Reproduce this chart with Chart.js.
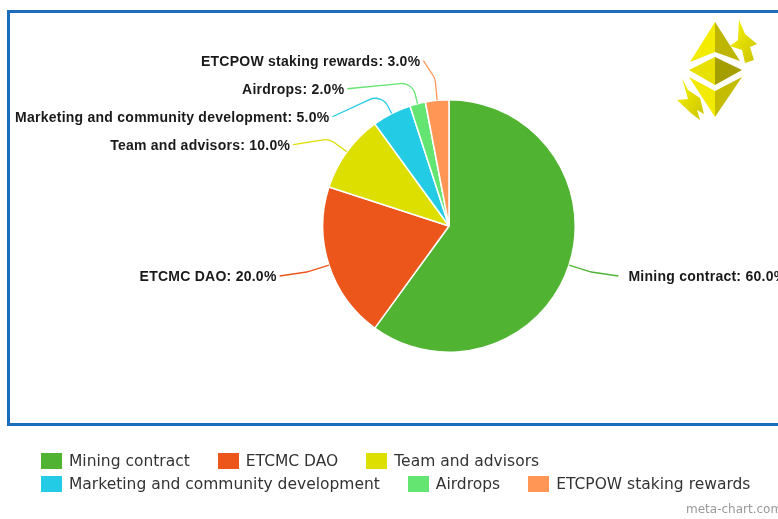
<!DOCTYPE html>
<html>
<head>
<meta charset="utf-8">
<script src="https://cdn.jsdelivr.net/npm/chart.js@4/dist/chart.umd.min.js"></script>
<style>
  html, body { margin: 0; padding: 0; width: 778px; height: 519px; overflow: hidden; background: #fff; }
  #frame { position: absolute; left: 7px; top: 10px; width: 820px; height: 410px; border: 3px solid #1b6cba; box-sizing: content-box; }
  #c { position: absolute; left: 0; top: 0; }
  #logo { position: absolute; left: 0; top: 0; }
  #legend { position: absolute; left: 41px; top: 449px; width: 770px; display: flex; flex-wrap: wrap; font-family: "DejaVu Sans", sans-serif; font-size: 15.5px; color: #333; }
  .item { display: flex; align-items: center; height: 23px; margin-right: 28px; white-space: nowrap; }
  .sw { width: 21px; height: 16px; margin-right: 7px; }
  #credit { position: absolute; left: 686px; top: 502px; font-family: "DejaVu Sans", sans-serif; font-size: 12px; color: #999; white-space: nowrap; }
</style>
</head>
<body>
<div id="frame"></div>
<canvas id="c" width="778" height="519"></canvas>
<svg id="logo" width="778" height="519" viewBox="0 0 778 519">
  <defs>
    <linearGradient id="g1" x1="0" y1="0" x2="1" y2="1">
      <stop offset="0" stop-color="#fbf500"/><stop offset="1" stop-color="#c9c200"/>
    </linearGradient>
  </defs>
  <polygon points="715,22 690,62 715,52" fill="#f3ec00"/>
  <polygon points="715,22 740,61 715,52" fill="#bdb500"/>
  <polygon points="689,70 715,57 715,85" fill="#e8e000"/>
  <polygon points="715,57 742,70 715,85" fill="#a59e00"/>
  <polygon points="689,77 715,91 715,117" fill="#f2eb00"/>
  <polygon points="715,91 742,77 715,117" fill="#c4bc00"/>
  <polygon points="739,20 745,34 757,44 750,47 754,60 745,63 742,50 730,46 738,40" fill="url(#g1)"/>
  <polygon points="682,78 688,90 700,98 704,114 697,110 700,120 692,114 677,100 688,99" fill="url(#g1)"/>
</svg>
<div id="legend"></div>
<div id="credit">meta-chart.com</div>
<script>
const categories = ['Mining contract', 'ETCMC DAO', 'Team and advisors', 'Marketing and community development', 'Airdrops', 'ETCPOW staking rewards'];
const shares = [60, 20, 10, 5, 2, 3];
const colors = ['#50b432', '#ed561b', '#dddf00', '#24cbe5', '#64e572', '#ff9655'];

const legend = document.getElementById('legend');
categories.forEach((c, i) => {
  const it = document.createElement('div'); it.className = 'item';
  const sw = document.createElement('span'); sw.className = 'sw'; sw.style.background = colors[i];
  const tx = document.createElement('span'); tx.textContent = c;
  it.appendChild(sw); it.appendChild(tx); legend.appendChild(it);
});

const outsideLabels = {
  id: 'outsideLabels',
  afterDatasetsDraw(chart) {
    const ctx = chart.ctx;
    const meta = chart.getDatasetMeta(0);
    const LABEL_R = 165, EX = 178, EY = 166, SPACING = 28, BREAK = 22, MIN_X = 15;
    const items = meta.data.map((arc, i) => {
      const mid = (arc.startAngle + arc.endAngle) / 2;
      const cos = Math.cos(mid), sin = Math.sin(mid);
      return { i, cos, sin, cx: arc.x, cy: arc.y, r: arc.outerRadius, left: cos < 0, ny: arc.y + sin * LABEL_R };
    });
    [true, false].forEach(side => {
      const list = items.filter(o => o.left === side).sort((a, b) => a.ny - b.ny);
      let prev = -Infinity;
      list.forEach(o => { o.y = Math.max(o.ny, prev + SPACING); prev = o.y; });
    });
    ctx.save();
    ctx.font = 'bold 14px "Liberation Sans", Arial, sans-serif';
    ctx.letterSpacing = '0.25px';
    ctx.textBaseline = 'middle';
    items.forEach(o => {
      const txt = categories[o.i] + ': ' + shares[o.i].toFixed(1) + '%';
      const w = ctx.measureText(txt).width;
      const dy = o.y - o.cy;
      const k = Math.sqrt(Math.max(0, 1 - (dy / EY) * (dy / EY)));
      let ax = o.cx + (o.left ? -1 : 1) * EX * k;
      if (o.left && ax - 3 - w < MIN_X) ax = MIN_X + w + 3;
      const ex = o.cx + o.cos * o.r, ey = o.cy + o.sin * o.r;
      const bx = o.cx + o.cos * (o.r + BREAK), by = o.cy + o.sin * (o.r + BREAK);
      ctx.beginPath();
      ctx.moveTo(ax, o.y - 1);
      ctx.arcTo(bx, by, ex, ey, 14);
      ctx.lineTo(ex, ey);
      ctx.strokeStyle = colors[o.i];
      ctx.lineWidth = 1.3;
      ctx.stroke();
      ctx.fillStyle = '#1a1a1a';
      ctx.textAlign = o.left ? 'right' : 'left';
      ctx.fillText(txt, ax + (o.left ? -3 : 10), o.y);
    });
    ctx.restore();
  }
};

new Chart(document.getElementById('c'), {
  type: 'pie',
  data: {
    labels: categories,
    datasets: [{ data: shares, backgroundColor: colors, borderColor: '#ffffff', borderWidth: 1.5 }]
  },
  options: {
    responsive: false,
    animation: false,
    layout: { padding: { left: 322, right: 202, top: 99, bottom: 166 } },
    plugins: { legend: { display: false }, tooltip: { enabled: false } }
  },
  plugins: [outsideLabels]
});
</script>
</body>
</html>
